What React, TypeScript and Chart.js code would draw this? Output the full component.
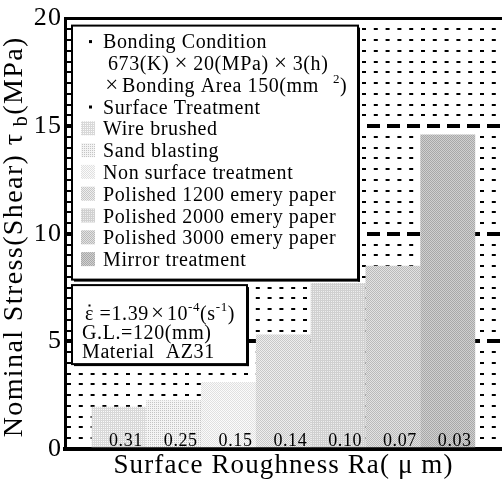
import React, { useEffect, useRef } from 'react';
import { Chart, registerables } from 'chart.js';

Chart.register(...registerables);

// ---------------- data ----------------
const roughnessLabels = ['0.31', '0.25', '0.15', '0.14', '0.10', '0.07', '0.03'];
const treatments = [
  'Wire brushed',
  'Sand blasting',
  'Non surface treatment',
  'Polished 1200 emery paper',
  'Polished 2000 emery paper',
  'Polished 3000 emery paper',
  'Mirror treatment',
];
const shearStress = [1.95, 2.25, 3.1, 5.3, 7.7, 8.5, 14.6];
const yMajorTicks = [0, 5, 10, 15, 20];
const yMinorStep = 0.5;

const xTitle = 'Surface Roughness Ra( \u03bc m)';
const yTitleMain = 'Nominal Stress(Shear) \u03c4';
const yTitleSub = ' b';
const yTitleUnit = '(MPa)';
const conditionTitle = 'Bonding Condition';
const treatmentTitle = 'Surface Treatment';
const strainRate = '=1.39';
const gaugeLength = 'G.L.=120(mm)';
const material = 'Material  AZ31';

// ---------------- styles ----------------
const FAMILY = '"Liberation Serif", "Times New Roman", serif';
// [kind, light, dark]
const barShades: [string, string, string][] = [
  ['grid', '#fafafa', '#d8d8d8'],
  ['dots', '#f4f4f4', '#c4c4c4'],
  ['checker', '#fbfbfb', '#e0e0e0'],
  ['checker', '#eeeeee', '#c8c8c8'],
  ['grid', '#eeeeee', '#d0d0d0'],
  ['checker', '#e2e2e2', '#bababa'],
  ['checker', '#d0d0d0', '#a8a8a8'],
];

function makePattern(kind: string, light: string, dark: string): CanvasPattern | string {
  const c = document.createElement('canvas');
  c.width = 2;
  c.height = 2;
  const g = c.getContext('2d');
  if (!g) return light;
  g.fillStyle = light;
  g.fillRect(0, 0, 2, 2);
  g.fillStyle = dark;
  for (let py = 0; py < 2; py++) {
    for (let px = 0; px < 2; px++) {
      let on = false;
      if (kind === 'grid') on = px === 0 || py === 0;
      else if (kind === 'checker') on = (px + py) % 2 === 0;
      else on = px === 0 && py === 0;
      if (on) g.fillRect(px, py, 1, 1);
    }
  }
  const p = g.createPattern(c, 'repeat');
  return p || light;
}

type Seg = { t: string; size?: number; dy?: number; w?: number; padL?: number; dot?: boolean };

function segWidth(ctx: CanvasRenderingContext2D, s: Seg, base: number) {
  if (s.w) return s.w;
  ctx.font = `${s.size || base}px ${FAMILY}`;
  return ctx.measureText(s.t).width + (s.padL || 0);
}

function richWidth(ctx: CanvasRenderingContext2D, segs: Seg[], base: number) {
  return segs.reduce((a, s) => a + segWidth(ctx, s, base), 0);
}

function drawRich(ctx: CanvasRenderingContext2D, x: number, y: number, segs: Seg[], base: number) {
  let cx = x;
  ctx.textBaseline = 'alphabetic';
  for (const s of segs) {
    const size = s.size || base;
    ctx.font = `${size}px ${FAMILY}`;
    const w = segWidth(ctx, s, base);
    if (s.w) {
      ctx.textAlign = 'center';
      ctx.fillText(s.t, cx + w / 2, y + (s.dy || 0));
    } else {
      ctx.textAlign = 'left';
      ctx.fillText(s.t, cx + (s.padL || 0), y + (s.dy || 0));
      if (s.dot) {
        const gw = ctx.measureText(s.t).width;
        ctx.fillRect(cx + gw / 2 - 1, y - size * 0.78, 2, 2);
      }
    }
    cx += w;
  }
  ctx.textAlign = 'left';
}

function drawBox(ctx: CanvasRenderingContext2D, x: number, y: number, w: number, h: number) {
  ctx.fillStyle = '#ffffff';
  ctx.fillRect(x, y, w, h);
  ctx.strokeStyle = '#000000';
  ctx.lineWidth = 2;
  ctx.strokeRect(x, y, w, h);
  ctx.fillStyle = '#000000';
  ctx.fillRect(x + w, y + 2, 2, h);
  ctx.fillRect(x + 2, y + h, w, 2);
}

export default function App() {
  const ref = useRef<HTMLCanvasElement>(null);

  useEffect(() => {
    const canvas = ref.current;
    if (!canvas) return;
    const patterns = barShades.map(([k, a, b]) => makePattern(k, a, b));

    const yTicks: number[] = [];
    for (let v = yMajorTicks[0]; v <= yMajorTicks[yMajorTicks.length - 1] + 1e-9; v += yMinorStep) {
      yTicks.push(Math.round(v * 10) / 10);
    }
    const yMax = yMajorTicks[yMajorTicks.length - 1];

    const overlay = {
      id: 'overlay',
      beforeDraw(chart: any) {
        (chart.ctx as any).letterSpacing = '1.1px';
      },
      afterDatasetsDraw(chart: any) {
        const ctx = chart.ctx as CanvasRenderingContext2D;
        const xs = chart.scales.x;
        const ys = chart.scales.y;
        ctx.save();
        (ctx as any).letterSpacing = '0.6px';
        ctx.fillStyle = '#000';
        ctx.font = `18px ${FAMILY}`;
        ctx.textAlign = 'center';
        ctx.textBaseline = 'alphabetic';
        roughnessLabels.forEach((lab, i) => {
          ctx.fillText(lab, xs.getPixelForValue(i) + 7, ys.getPixelForValue(0) - 3);
        });
        ctx.restore();
      },
      afterDraw(chart: any) {
        const ctx = chart.ctx as CanvasRenderingContext2D;
        const ca = chart.chartArea;
        const base = 20;
        ctx.save();
        (ctx as any).letterSpacing = '0.6px';

        // ---- legend / condition box ----
        const bx = ca.left + 7;
        const by = ca.top + 7;
        drawBox(ctx, bx, by, 286, 254);
        ctx.fillStyle = '#000';
        const b0 = by + 22.5;
        const lh = 21.8;
        const bullet = (row: number) => ctx.fillRect(bx + 17, b0 + row * lh - 8, 3, 3);
        bullet(0);
        drawRich(ctx, bx + 31, b0, [{ t: conditionTitle }], base);
        drawRich(
          ctx,
          bx + 36,
          b0 + lh,
          [{ t: '673(K)' }, { t: '\u00d7', w: 24, size: 23 }, { t: '20(MPa)' }, { t: '\u00d7', w: 24, size: 23 }, { t: '3(h)' }],
          base
        );
        drawRich(
          ctx,
          bx + 30,
          b0 + 2 * lh,
          [{ t: '\u00d7', w: 20, size: 23 }, { t: 'Bonding Area 150(mm' }, { t: '2', size: 13, dy: -9, padL: 14 }, { t: ')' }],
          base
        );
        bullet(3);
        drawRich(ctx, bx + 31, b0 + 3 * lh, [{ t: treatmentTitle }], base);
        treatments.forEach((name, i) => {
          const yb = b0 + (4 + i) * lh;
          ctx.fillStyle = patterns[i] as any;
          ctx.fillRect(bx + 9, yb - 14, 14, 14);
          ctx.fillStyle = '#000';
          drawRich(ctx, bx + 31, yb, [{ t: name }], base);
        });

        // ---- material box ----
        const mx = ca.left + 7;
        const my = ca.top + 266.5;
        drawBox(ctx, mx, my, 175, 79);
        ctx.fillStyle = '#000';
        drawRich(
          ctx,
          mx + 13,
          my + 35,
          [
            { t: '\u03b5', dot: true },
            { t: ' ' + strainRate },
            { t: '\u00d7', w: 18, size: 23 },
            { t: '10' },
            { t: '-4', size: 13, dy: -9 },
            { t: '(s' },
            { t: '-1', size: 13, dy: -9 },
            { t: ')' },
          ],
          base
        );
        drawRich(ctx, mx + 10, my + 54, [{ t: gaugeLength }], base);
        drawRich(ctx, mx + 10, my + 73, [{ t: material }], base);

        // ---- y axis title (with subscript) ----
        const tsegs: Seg[] = [{ t: yTitleMain }, { t: yTitleSub, size: 20, dy: 5 }, { t: yTitleUnit }];
        (ctx as any).letterSpacing = '1.4px';
        const tw = richWidth(ctx, tsegs, 28);
        ctx.translate(12, (ca.top + ca.bottom) / 2 + 3);
        ctx.rotate(-Math.PI / 2);
        ctx.fillStyle = '#000';
        drawRich(ctx, -tw / 2, 10, tsegs, 28);
        ctx.restore();
      },
    };

    const chart = new Chart(canvas, {
      type: 'bar',
      data: {
        datasets: [
          {
            data: shearStress.map((v, i) => ({ x: i, y: v })),
            backgroundColor: patterns as any,
            borderWidth: 0,
            barPercentage: 1,
            categoryPercentage: 1,
          },
        ],
      },
      options: {
        responsive: false,
        animation: false,
        devicePixelRatio: 1,
        events: [],
        layout: { padding: { top: 15, left: 0, right: 0, bottom: 0 } },
        plugins: { legend: { display: false }, tooltip: { enabled: false } },
        scales: {
          x: {
            type: 'linear',
            min: -0.985,
            max: 6.99,
            offset: false,
            grid: { display: false, offset: false, drawTicks: false },
            border: { display: true, color: '#000', width: 4 },
            ticks: { display: false },
            title: {
              display: true,
              text: xTitle,
              color: '#000',
              font: { family: FAMILY, size: 27 },
              padding: { top: 0, bottom: 3 },
            },
            afterFit: (s: any) => {
              s.height = 36;
            },
          },
          y: {
            type: 'linear',
            min: 0,
            max: yMax,
            afterBuildTicks: (s: any) => {
              s.ticks = yTicks.map((v) => ({ value: v }));
            },
            ticks: {
              autoSkip: false,
              color: '#000',
              padding: 3,
              font: { family: FAMILY, size: 26 },
              callback: (v: any) => (yMajorTicks.includes(Number(v)) ? String(v) : ''),
            },
            grid: {
              drawTicks: false,
              color: (c: any) => (c.tick && c.tick.value === 0 ? 'rgba(0,0,0,0)' : '#000'),
              lineWidth: (c: any) => {
                const v = c.tick ? c.tick.value : 0;
                if (v === yMax) return 3;
                return yMajorTicks.includes(v) ? 4 : 2;
              },
            },
            border: {
              display: true,
              color: '#000',
              width: 3,
              dash: (c: any) => {
                if (!c.tick) return [];
                const v = c.tick.value;
                if (v === yMax) return [];
                return yMajorTicks.includes(v) ? [13, 7] : [4, 7.8];
              },
            },
            afterFit: (s: any) => {
              s.width = 65;
            },
          },
        },
      } as any,
      plugins: [overlay],
    });

    return () => chart.destroy();
  }, []);

  return (
    <div style={{ position: 'fixed', left: 0, top: 0, width: 502, height: 485, background: '#ffffff' }}>
      <canvas ref={ref} width={502} height={485} style={{ display: 'block', width: 502, height: 485 }} />
    </div>
  );
}
